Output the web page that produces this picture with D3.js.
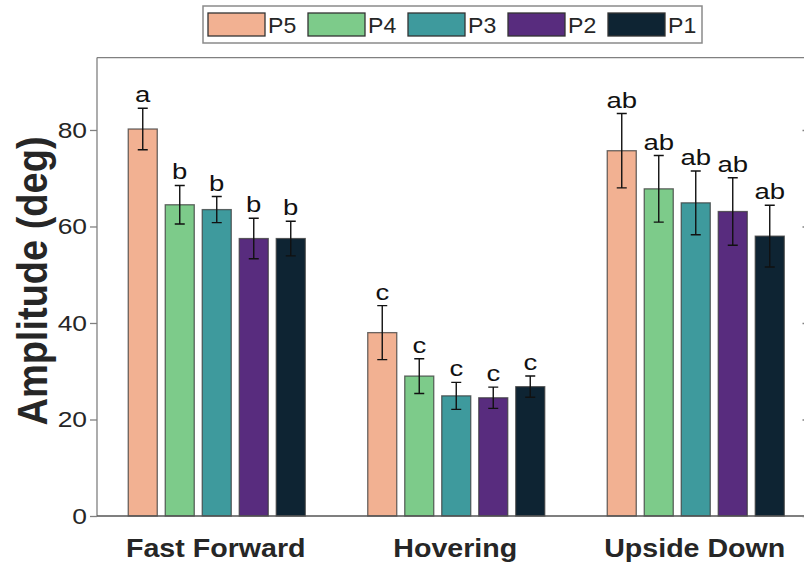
<!DOCTYPE html>
<html><head><meta charset="utf-8">
<script src="https://cdn.jsdelivr.net/npm/d3@7"></script>
<style>body{margin:0;background:#fff}svg{display:block}</style>
</head><body>
<svg id="c" width="804" height="567"></svg>
<script>
const categories = ["Fast Forward", "Hovering", "Upside Down"];
const series = ["P5", "P4", "P3", "P2", "P1"];
const colors = ["#F2B192", "#7DCB8A", "#3E9A9D", "#582C7E", "#0E2433"];
// values[series][category]
const means = [
  [80.2, 38.0, 75.7],
  [64.5, 29.0, 67.8],
  [63.5, 24.9, 64.9],
  [57.5, 24.5, 63.1],
  [57.5, 26.8, 58.0]
];
const errors = [
  [4.3, 5.6, 7.7],
  [4.0, 3.6, 6.9],
  [2.7, 2.8, 6.6],
  [4.2, 2.2, 7.0],
  [3.6, 2.2, 6.4]
];
const letters = [
  ["a", "c", "ab"],
  ["b", "c", "ab"],
  ["b", "c", "ab"],
  ["b", "c", "ab"],
  ["b", "c", "ab"]
];
const yTicks = [0, 20, 40, 60, 80];

const svg = d3.select("#c");
const L = 97, R = 815.5, T = 57.6, B = 516;
const y = d3.scaleLinear().domain([0, 95]).range([B, T]);
const x0 = d3.scaleBand().domain(categories).range([L, R]).padding(0);
const bw = x0.bandwidth();
const x1 = d3.scaleBand().domain(series).range([bw/2 - 92.5, bw/2 + 92.5]).paddingInner(0.216).paddingOuter(0.108);
const SX = 1.15;
const txtCol = "#262626";

function stext(g, x, y, s, opts) {
  const t = g.append("text").attr("transform", `translate(${x},${y}) scale(${opts.sx||SX},1)`)
    .attr("text-anchor", opts.anchor || "middle")
    .attr("font-family", "Liberation Sans, Arial, sans-serif")
    .attr("font-size", opts.size).attr("font-weight", opts.weight || "normal")
    .attr("fill", opts.fill || txtCol).text(s);
  return t;
}

// bars
const data = [];
series.forEach((s, si) => categories.forEach((c, ci) => data.push({s, si, c, ci, v: means[si][ci], e: errors[si][ci], l: letters[si][ci]})));
const g = svg.append("g");
g.selectAll("rect.bar").data(data).join("rect")
  .attr("x", d => x0(d.c) + x1(d.s)).attr("width", x1.bandwidth())
  .attr("y", d => y(d.v)).attr("height", d => B - y(d.v))
  .attr("fill", d => colors[d.si]).attr("stroke", "#3a3a3a").attr("stroke-opacity", 0.75).attr("stroke-width", 1.3);

// error bars
const cx = d => x0(d.c) + x1(d.s) + x1.bandwidth()/2;
g.selectAll("path.err").data(data).join("path")
  .attr("d", d => {
    const xc = cx(d), t = y(d.v + d.e), b = y(d.v - d.e), w = 5;
    return `M${xc},${t}V${b}M${xc-w},${t}H${xc+w}M${xc-w},${b}H${xc+w}`;
  }).attr("stroke", "#111").attr("stroke-width", 1.4).attr("fill", "none");

// letters
data.forEach(d => {
  stext(g, cx(d), y(d.v + d.e) - 6, d.l, {size: 22, sx: 1.25, fill: "#111"});
});

// axes box
const ax = svg.append("g").attr("fill", "none").attr("stroke", "#808080").attr("stroke-width", 1.3);
ax.append("line").attr("x1", L).attr("x2", L).attr("y1", T).attr("y2", B);
ax.append("line").attr("x1", L).attr("x2", R).attr("y1", T).attr("y2", T);
ax.append("line").attr("x1", R).attr("x2", R).attr("y1", T).attr("y2", B);
ax.append("line").attr("x1", L).attr("x2", R).attr("y1", B).attr("y2", B).attr("stroke", "#555");

// y axis ticks via d3 axis
const yAxis = svg.append("g").attr("transform", `translate(${L},0)`)
  .call(d3.axisLeft(y).tickValues(yTicks).tickSize(7).tickFormat(""));
yAxis.select(".domain").remove();
yAxis.selectAll(".tick line").attr("stroke", "#808080").attr("stroke-width", 1.3);
const yAxisR = svg.append("g").attr("transform", `translate(${R},0)`)
  .call(d3.axisRight(y).tickValues(yTicks).tickSize(-13).tickFormat(""));
yAxisR.select(".domain").remove();
yAxisR.selectAll(".tick line").attr("stroke", "#808080").attr("stroke-width", 1.3);
yTicks.forEach(v => stext(svg, 87, y(v) + 8, String(v), {size: 22, anchor: "end", sx: 1.2}));

// x labels
categories.forEach(c => stext(svg, x0(c) + bw/2 - 1, 557, c, {size: 26, weight: "bold", sx: 1.1}));

// y label
svg.append("text").attr("transform", `translate(47,281) rotate(-90) scale(1,1.12)`)
  .attr("text-anchor", "middle").attr("font-family", "Liberation Sans, Arial, sans-serif")
  .attr("font-size", 38).attr("font-weight", "bold").attr("fill", txtCol).text("Amplitude (deg)");

// legend
const lg = svg.append("g");
lg.append("rect").attr("x", 203).attr("y", 6).attr("width", 499).attr("height", 37)
  .attr("fill", "#fff").attr("stroke", "#8a8a8a").attr("stroke-width", 1.5);
series.forEach((s, i) => {
  const lx = 208 + i * 100;
  lg.append("rect").attr("x", lx).attr("y", 13).attr("width", 57).attr("height", 23)
    .attr("fill", colors[i]).attr("stroke", "#333").attr("stroke-width", 1.3);
  stext(lg, lx + 60, 33, s, {size: 22, anchor: "start", sx: 1.05});
});
</script>
</body></html>
